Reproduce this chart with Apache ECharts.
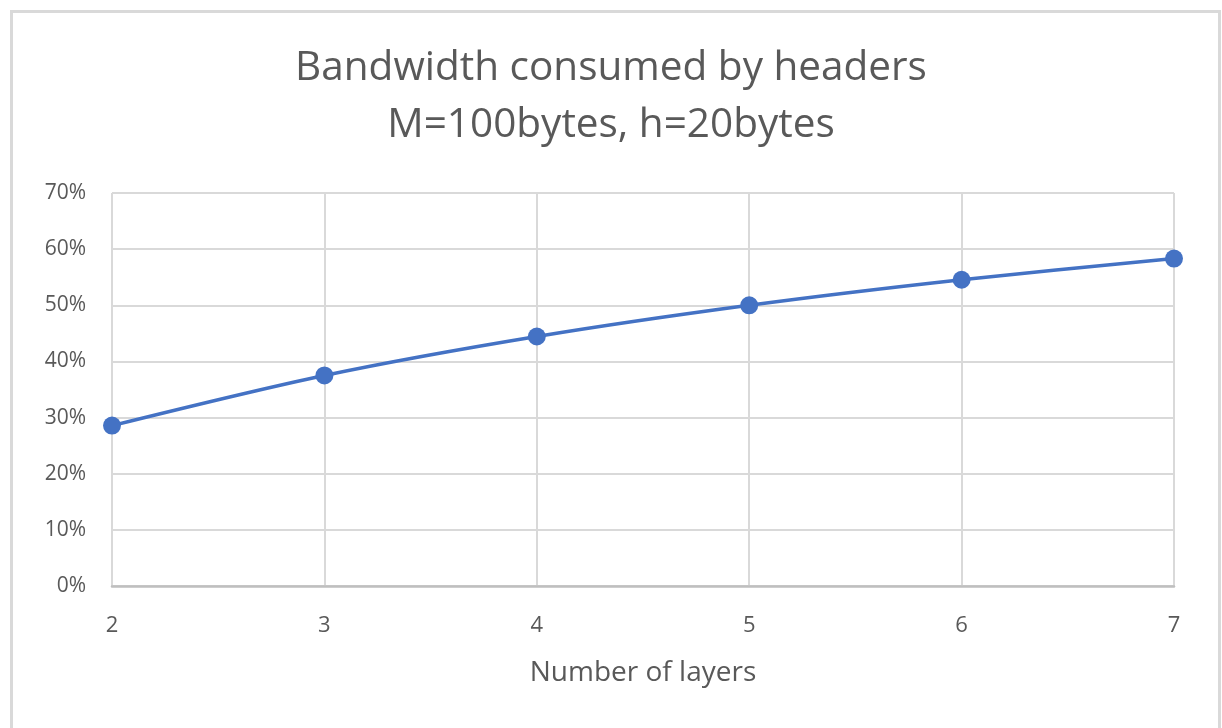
<!DOCTYPE html>
<html>
<head>
<meta charset="utf-8">
<script src="https://cdn.jsdelivr.net/npm/echarts@6/dist/echarts.min.js"></script>
<style>
  html, body { margin: 0; padding: 0; background: #ffffff; }
  #chart { width: 1222px; height: 728px; }
</style>
</head>
<body>
<div id="chart"></div>
<script>
// Number of protocol layers
const layers = ['2', '3', '4', '5', '6', '7'];
// Share of bandwidth taken by headers (fraction)
const headerShare = [0.2857, 0.375, 0.4444, 0.5, 0.5455, 0.5833];
// Value-axis ticks
const yTicks = [0, 0.1, 0.2, 0.3, 0.4, 0.5, 0.6, 0.7];

const titleLines = ['Bandwidth consumed by headers', 'M=100bytes, h=20bytes'];
const xAxisTitle = 'Number of layers';

const FONT = '"Open Sans", "Noto Sans", sans-serif';
const TEXT = '#595959';

const chart = echarts.init(document.getElementById('chart'), null, { renderer: 'canvas' });

chart.setOption({
  backgroundColor: '#ffffff',
  animation: false,
  title: {
    text: titleLines.join('\n'),
    left: 'center',
    top: 35,
    textStyle: {
      fontFamily: FONT,
      fontSize: 40.5,
      fontWeight: 'normal',
      color: TEXT,
      lineHeight: 57
    }
  },
  graphic: [{
    type: 'rect',
    left: 9,
    top: 9,
    shape: { width: 1208, height: 760 },
    style: { fill: 'none', stroke: '#d9d9d9', lineWidth: 3 },
    silent: true
  }],
  grid: {
    left: 112,
    right: 48,
    top: 193,
    bottom: 142,
    containLabel: false
  },
  xAxis: {
    type: 'category',
    data: layers,
    boundaryGap: false,
    name: xAxisTitle,
    nameLocation: 'middle',
    nameGap: 73,
    nameTextStyle: { fontFamily: FONT, fontSize: 28, color: TEXT },
    axisLine: { show: true, lineStyle: { color: '#bfbfbf', width: 2.5 } },
    axisTick: { show: false },
    axisLabel: { fontFamily: FONT, fontSize: 22, color: TEXT, margin: 29 },
    splitLine: { show: true, lineStyle: { color: '#d9d9d9', width: 2 } }
  },
  yAxis: {
    type: 'value',
    min: yTicks[0],
    max: yTicks[yTicks.length - 1],
    interval: 0.1,
    axisLine: { show: false },
    axisTick: { show: false },
    axisLabel: {
      fontFamily: FONT,
      fontSize: 21,
      color: TEXT,
      margin: 26,
      formatter: v => Math.round(v * 100) + '%'
    },
    splitLine: { show: true, lineStyle: { color: '#d9d9d9', width: 2 } }
  },
  series: [{
    type: 'line',
    data: headerShare,
    smooth: 0.3,
    symbol: 'circle',
    symbolSize: 18,
    lineStyle: { color: '#4472C4', width: 3.5 },
    itemStyle: { color: '#4472C4' },
    z: 5
  }]
});
</script>
</body>
</html>
